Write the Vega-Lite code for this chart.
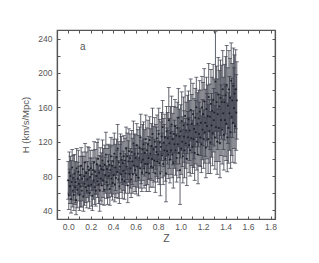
{
  "$schema": "https://vega.github.io/schema/vega-lite/v6.json",
  "width": 218,
  "height": 189,
  "autosize": "none",
  "padding": {"left": 57, "top": 30, "right": 44, "bottom": 44},
  "background": "white",
  "config": {
    "font": "Liberation Sans",
    "view": {"stroke": "#555", "strokeWidth": 1.2},
    "axis": {"domainColor": "#555", "domainWidth": 1.2, "tickColor": "#555", "tickWidth": 1, "labelColor": "#555", "labelFontSize": 8.5, "titleColor": "#555", "titleFontWeight": "normal", "grid": false}
  },
  "data": {"values": [
    {"z":0.000,"H":75,"e":22},{"z":0.005,"H":58,"e":17},{"z":0.010,"H":84,"e":24},{"z":0.015,"H":68,"e":20},{"z":0.020,"H":80,"e":23},{"z":0.025,"H":53,"e":16},{"z":0.030,"H":73,"e":25},{"z":0.035,"H":90,"e":21},{"z":0.040,"H":63,"e":19},{"z":0.045,"H":78,"e":26},
    {"z":0.050,"H":58,"e":18},{"z":0.055,"H":83,"e":22},{"z":0.060,"H":67,"e":20},{"z":0.065,"H":73,"e":24},{"z":0.070,"H":52,"e":17},{"z":0.075,"H":89,"e":23},{"z":0.080,"H":64,"e":21},{"z":0.085,"H":77,"e":19},{"z":0.090,"H":85,"e":25},{"z":0.095,"H":71,"e":20},
    {"z":0.100,"H":58,"e":18},{"z":0.105,"H":81,"e":22},{"z":0.110,"H":68,"e":24},{"z":0.115,"H":92,"e":21},{"z":0.120,"H":63,"e":19},{"z":0.125,"H":77,"e":26},{"z":0.130,"H":88,"e":20},{"z":0.135,"H":56,"e":17},{"z":0.140,"H":80,"e":23},{"z":0.145,"H":71,"e":25},
    {"z":0.150,"H":96,"e":22},{"z":0.155,"H":67,"e":18},{"z":0.160,"H":84,"e":24},{"z":0.165,"H":63,"e":20},{"z":0.170,"H":76,"e":21},{"z":0.175,"H":91,"e":23},{"z":0.180,"H":69,"e":19},{"z":0.185,"H":87,"e":26},{"z":0.190,"H":60,"e":18},{"z":0.195,"H":79,"e":22},
    {"z":0.200,"H":89,"e":21},{"z":0.205,"H":70,"e":25},{"z":0.210,"H":82,"e":19},{"z":0.215,"H":57,"e":17},{"z":0.220,"H":87,"e":23},{"z":0.225,"H":75,"e":22},{"z":0.230,"H":96,"e":24},{"z":0.235,"H":67,"e":20},{"z":0.240,"H":85,"e":26},{"z":0.245,"H":63,"e":18},
    {"z":0.250,"H":80,"e":21},{"z":0.255,"H":94,"e":25},{"z":0.260,"H":74,"e":19},{"z":0.265,"H":100,"e":23},{"z":0.270,"H":70,"e":22},{"z":0.275,"H":84,"e":20},{"z":0.280,"H":63,"e":24},{"z":0.285,"H":92,"e":21},{"z":0.290,"H":77,"e":26},{"z":0.295,"H":88,"e":19},
    {"z":0.300,"H":69,"e":22},{"z":0.305,"H":98,"e":24},{"z":0.310,"H":75,"e":20},{"z":0.315,"H":87,"e":25},{"z":0.320,"H":64,"e":18},{"z":0.325,"H":93,"e":23},{"z":0.330,"H":81,"e":21},{"z":0.335,"H":105,"e":26},{"z":0.340,"H":73,"e":19},{"z":0.345,"H":88,"e":24},
    {"z":0.350,"H":69,"e":22},{"z":0.355,"H":97,"e":20},{"z":0.360,"H":80,"e":25},{"z":0.365,"H":93,"e":23},{"z":0.370,"H":65,"e":19},{"z":0.375,"H":87,"e":27},{"z":0.380,"H":103,"e":22},{"z":0.385,"H":77,"e":21},{"z":0.390,"H":92,"e":24},{"z":0.395,"H":72,"e":20},
    {"z":0.400,"H":97,"e":26},{"z":0.405,"H":81,"e":22},{"z":0.410,"H":106,"e":24},{"z":0.415,"H":70,"e":20},{"z":0.420,"H":90,"e":27},{"z":0.425,"H":78,"e":23},{"z":0.430,"H":102,"e":21},{"z":0.435,"H":85,"e":25},{"z":0.440,"H":112,"e":28},{"z":0.445,"H":76,"e":22},
    {"z":0.450,"H":96,"e":24},{"z":0.455,"H":68,"e":20},{"z":0.460,"H":91,"e":26},{"z":0.465,"H":106,"e":23},{"z":0.470,"H":82,"e":21},{"z":0.475,"H":99,"e":27},{"z":0.480,"H":76,"e":22},{"z":0.485,"H":95,"e":25},{"z":0.490,"H":86,"e":23},{"z":0.495,"H":103,"e":24},
    {"z":0.500,"H":74,"e":21},{"z":0.505,"H":98,"e":26},{"z":0.510,"H":83,"e":23},{"z":0.515,"H":112,"e":25},{"z":0.520,"H":91,"e":22},{"z":0.525,"H":103,"e":27},{"z":0.530,"H":69,"e":20},{"z":0.535,"H":97,"e":24},{"z":0.540,"H":109,"e":26},{"z":0.545,"H":82,"e":22},
    {"z":0.550,"H":101,"e":28},{"z":0.555,"H":89,"e":23},{"z":0.560,"H":76,"e":21},{"z":0.565,"H":108,"e":25},{"z":0.570,"H":97,"e":27},{"z":0.575,"H":82,"e":22},{"z":0.580,"H":118,"e":26},{"z":0.585,"H":92,"e":24},{"z":0.590,"H":106,"e":23},{"z":0.595,"H":87,"e":25},
    {"z":0.600,"H":101,"e":27},{"z":0.605,"H":81,"e":22},{"z":0.610,"H":116,"e":25},{"z":0.615,"H":91,"e":24},{"z":0.620,"H":106,"e":28},{"z":0.625,"H":78,"e":21},{"z":0.630,"H":101,"e":26},{"z":0.635,"H":113,"e":24},{"z":0.640,"H":89,"e":23},{"z":0.645,"H":125,"e":27},
    {"z":0.650,"H":96,"e":25},{"z":0.655,"H":84,"e":22},{"z":0.660,"H":111,"e":29},{"z":0.665,"H":99,"e":24},{"z":0.670,"H":117,"e":26},{"z":0.675,"H":89,"e":23},{"z":0.680,"H":107,"e":27},{"z":0.685,"H":94,"e":25},{"z":0.690,"H":123,"e":28},{"z":0.695,"H":84,"e":22},
    {"z":0.700,"H":110,"e":26},{"z":0.705,"H":94,"e":24},{"z":0.710,"H":117,"e":28},{"z":0.715,"H":101,"e":25},{"z":0.720,"H":83,"e":21},{"z":0.725,"H":122,"e":27},{"z":0.730,"H":106,"e":29},{"z":0.735,"H":91,"e":24},{"z":0.740,"H":115,"e":26},{"z":0.745,"H":100,"e":25},
    {"z":0.750,"H":129,"e":30},{"z":0.755,"H":90,"e":23},{"z":0.760,"H":111,"e":27},{"z":0.765,"H":98,"e":25},{"z":0.770,"H":120,"e":28},{"z":0.775,"H":83,"e":22},{"z":0.780,"H":114,"e":26},{"z":0.785,"H":108,"e":29},{"z":0.790,"H":124,"e":27},{"z":0.795,"H":97,"e":24},
    {"z":0.800,"H":105,"e":28},{"z":0.805,"H":129,"e":30},{"z":0.810,"H":95,"e":25},{"z":0.815,"H":119,"e":27},{"z":0.820,"H":83,"e":26},{"z":0.825,"H":114,"e":29},{"z":0.830,"H":126,"e":28},{"z":0.835,"H":104,"e":26},{"z":0.840,"H":137,"e":31},{"z":0.845,"H":94,"e":24},
    {"z":0.850,"H":119,"e":28},{"z":0.855,"H":110,"e":30},{"z":0.860,"H":125,"e":27},{"z":0.865,"H":100,"e":26},{"z":0.870,"H":83,"e":33},{"z":0.875,"H":132,"e":29},{"z":0.880,"H":109,"e":27},{"z":0.885,"H":124,"e":30},{"z":0.890,"H":105,"e":28},{"z":0.895,"H":145,"e":38},
    {"z":0.900,"H":118,"e":29},{"z":0.905,"H":99,"e":27},{"z":0.910,"H":130,"e":31},{"z":0.915,"H":110,"e":28},{"z":0.920,"H":140,"e":33},{"z":0.925,"H":105,"e":27},{"z":0.930,"H":123,"e":30},{"z":0.935,"H":95,"e":29},{"z":0.940,"H":129,"e":32},{"z":0.945,"H":117,"e":28},
    {"z":0.950,"H":138,"e":31},{"z":0.955,"H":110,"e":29},{"z":0.960,"H":127,"e":33},{"z":0.965,"H":101,"e":28},{"z":0.970,"H":136,"e":30},{"z":0.975,"H":117,"e":31},{"z":0.980,"H":148,"e":34},{"z":0.985,"H":107,"e":29},{"z":0.990,"H":126,"e":32},{"z":0.995,"H":87,"e":40},
    {"z":1.000,"H":132,"e":31},{"z":1.005,"H":112,"e":30},{"z":1.010,"H":144,"e":34},{"z":1.015,"H":120,"e":29},{"z":1.020,"H":103,"e":31},{"z":1.025,"H":139,"e":33},{"z":1.030,"H":126,"e":30},{"z":1.035,"H":110,"e":32},{"z":1.040,"H":150,"e":35},{"z":1.045,"H":118,"e":29},
    {"z":1.050,"H":133,"e":33},{"z":1.055,"H":100,"e":31},{"z":1.060,"H":140,"e":34},{"z":1.065,"H":125,"e":30},{"z":1.070,"H":146,"e":33},{"z":1.075,"H":116,"e":32},{"z":1.080,"H":133,"e":35},{"z":1.085,"H":110,"e":30},{"z":1.090,"H":157,"e":36},{"z":1.095,"H":124,"e":32},
    {"z":1.100,"H":141,"e":34},{"z":1.105,"H":114,"e":31},{"z":1.110,"H":152,"e":36},{"z":1.115,"H":123,"e":33},{"z":1.120,"H":135,"e":35},{"z":1.125,"H":107,"e":32},{"z":1.130,"H":148,"e":34},{"z":1.135,"H":131,"e":37},{"z":1.140,"H":160,"e":35},{"z":1.145,"H":120,"e":33},
    {"z":1.150,"H":141,"e":36},{"z":1.155,"H":105,"e":34},{"z":1.160,"H":147,"e":33},{"z":1.165,"H":129,"e":37},{"z":1.170,"H":155,"e":36},{"z":1.175,"H":125,"e":34},{"z":1.180,"H":142,"e":38},{"z":1.185,"H":117,"e":33},{"z":1.190,"H":160,"e":36},{"z":1.195,"H":134,"e":35},
    {"z":1.200,"H":152,"e":37},{"z":1.205,"H":123,"e":34},{"z":1.210,"H":167,"e":38},{"z":1.215,"H":131,"e":36},{"z":1.220,"H":142,"e":39},{"z":1.225,"H":113,"e":35},{"z":1.230,"H":158,"e":37},{"z":1.235,"H":138,"e":38},{"z":1.240,"H":150,"e":36},{"z":1.245,"H":123,"e":40},
    {"z":1.250,"H":172,"e":39},{"z":1.255,"H":132,"e":37},{"z":1.260,"H":149,"e":38},{"z":1.265,"H":119,"e":36},{"z":1.270,"H":164,"e":40},{"z":1.275,"H":139,"e":37},{"z":1.280,"H":156,"e":39},{"z":1.285,"H":130,"e":38},{"z":1.290,"H":169,"e":41},{"z":1.295,"H":145,"e":37},
    {"z":1.300,"H":154,"e":39},{"z":1.305,"H":125,"e":37},{"z":1.310,"H":190,"e":58},{"z":1.315,"H":137,"e":40},{"z":1.320,"H":166,"e":42},{"z":1.325,"H":120,"e":38},{"z":1.330,"H":152,"e":41},{"z":1.335,"H":175,"e":43},{"z":1.340,"H":136,"e":39},{"z":1.345,"H":161,"e":42},
    {"z":1.350,"H":118,"e":40},{"z":1.355,"H":171,"e":44},{"z":1.360,"H":145,"e":41},{"z":1.365,"H":166,"e":43},{"z":1.370,"H":134,"e":40},{"z":1.375,"H":181,"e":45},{"z":1.380,"H":153,"e":42},{"z":1.385,"H":128,"e":41},{"z":1.390,"H":166,"e":44},{"z":1.395,"H":145,"e":42},
    {"z":1.400,"H":174,"e":45},{"z":1.405,"H":141,"e":43},{"z":1.410,"H":186,"e":46},{"z":1.415,"H":125,"e":40},{"z":1.420,"H":162,"e":44},{"z":1.425,"H":136,"e":41},{"z":1.430,"H":181,"e":45},{"z":1.435,"H":153,"e":43},{"z":1.440,"H":171,"e":46},{"z":1.445,"H":131,"e":42},
    {"z":1.450,"H":191,"e":44},{"z":1.455,"H":149,"e":45},{"z":1.460,"H":168,"e":43},{"z":1.465,"H":142,"e":46},{"z":1.470,"H":185,"e":44},{"z":1.475,"H":159,"e":47},{"z":1.480,"H":176,"e":45},{"z":1.485,"H":138,"e":43},{"z":1.490,"H":181,"e":46},{"z":1.495,"H":154,"e":44},
    {"z":1.500,"H":168,"e":45}
  ]},
  "resolve": {"axis": {"x": "independent", "y": "independent"}},
  "layer": [
    {
      "mark": {"type": "errorbar", "ticks": {"size": 4, "thickness": 0.9, "color": "#555865"}, "color": "#3a3d49", "opacity": 0.9, "thickness": 0.9},
      "encoding": {
        "x": {"field": "z", "type": "quantitative", "scale": {"domain": [-0.1, 1.84], "nice": false, "zero": false},
          "axis": {"orient": "bottom", "values": [0,0.1,0.2,0.3,0.4,0.5,0.6,0.7,0.8,0.9,1.0,1.1,1.2,1.3,1.4,1.5,1.6,1.7,1.8], "labelExpr": "round(datum.value*10)%2==0 ? format(datum.value,'.1f') : ''", "tickSize": -3, "labelPadding": 6, "title": "Z", "titleFontSize": 10.5, "titlePadding": 3, "labelFlush": false}},
        "y": {"field": "H", "type": "quantitative", "scale": {"domain": [30, 250], "nice": false, "zero": false},
          "axis": {"orient": "left", "values": [40,60,80,100,120,140,160,180,200,220,240], "labelExpr": "datum.value%40==0 ? datum.label : ''", "tickSize": -3, "labelPadding": 8, "title": "H (km/s/Mpc)", "titleFontSize": 9.5, "titlePadding": 7}},
        "yError": {"field": "e"}
      }
    },
    {
      "mark": {"type": "point", "shape": "square", "filled": true, "size": 3, "color": "#1e1f26", "opacity": 1},
      "encoding": {
        "x": {"field": "z", "type": "quantitative",
          "axis": {"orient": "top", "values": [0,0.1,0.2,0.3,0.4,0.5,0.6,0.7,0.8,0.9,1.0,1.1,1.2,1.3,1.4,1.5,1.6,1.7,1.8], "labels": false, "tickSize": -3, "title": null}},
        "y": {"field": "H", "type": "quantitative",
          "axis": {"orient": "right", "values": [40,60,80,100,120,140,160,180,200,220,240], "labels": false, "tickSize": -3, "title": null}}
      }
    },
    {
      "data": {"values": [{"label": "a"}]},
      "mark": {"type": "text", "fontSize": 10, "color": "#555", "font": "Liberation Sans"},
      "encoding": {
        "x": {"datum": 0.13, "type": "quantitative", "axis": null},
        "y": {"datum": 230, "type": "quantitative", "axis": null},
        "text": {"field": "label"}
      }
    }
  ]
}
